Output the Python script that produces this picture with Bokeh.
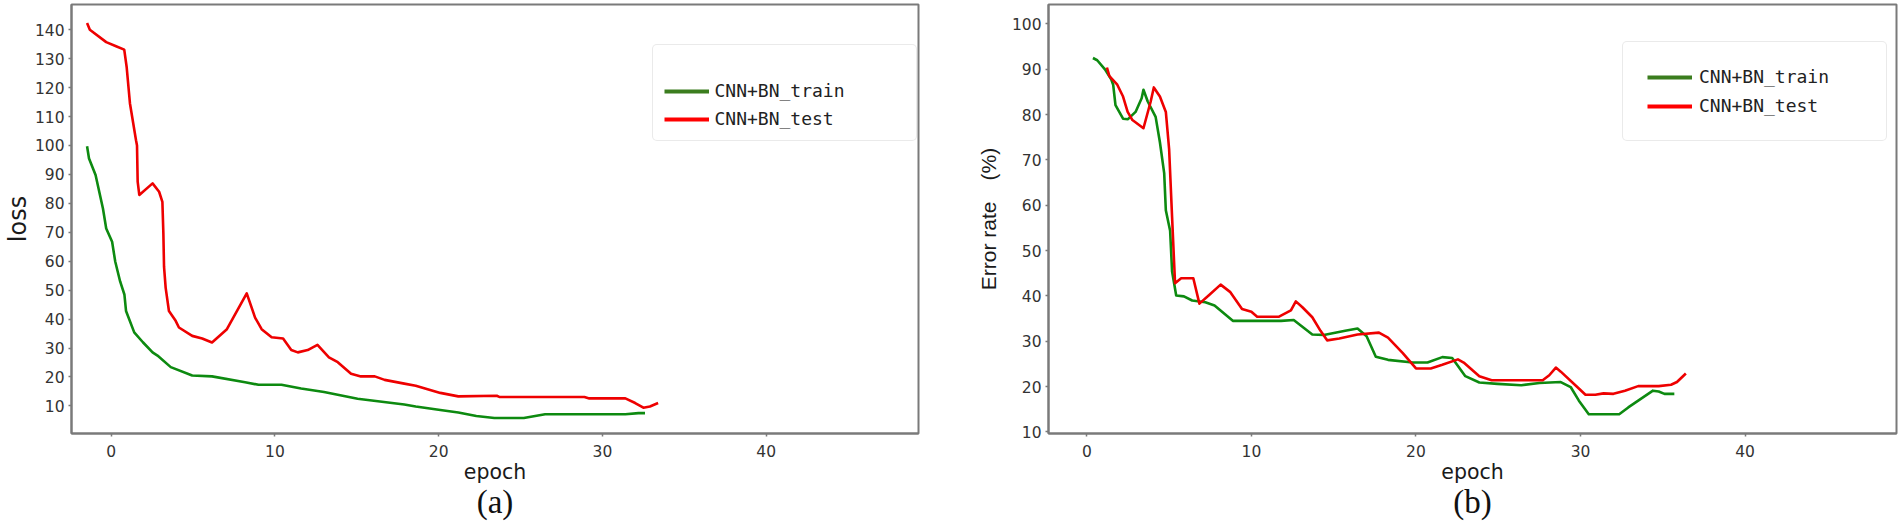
from bokeh.plotting import figure
from bokeh.layouts import row
from bokeh.models import Range1d, Legend, LegendItem, LinearAxis, FixedTicker
from bokeh.embed import file_html
from bokeh.resources import INLINE

# ---------------- data: (a) loss ----------------
loss_train_epoch = [-1.47, -1.35, -0.95, -0.5, -0.3, 0.06, 0.25, 0.55, 0.81, 0.91, 1.41, 1.94, 2.53, 2.83,
                    3.64, 4.95, 6.16, 8.18, 9.0, 10.4, 11.6, 13.0, 15.05, 17.9, 18.6, 20.1, 21.2, 22.3,
                    23.4, 25.2, 26.5, 31.4, 32.2, 32.6]
loss_train = [99.7, 95.5, 89.8, 78.2, 71.3, 66.7, 59.9, 53.0, 48.5, 42.8, 35.4, 32.0, 28.5, 27.4,
              23.4, 20.5, 20.2, 18.2, 17.3, 17.3, 16.0, 14.8, 12.5, 10.5, 9.8, 8.6, 7.7, 6.5,
              5.8, 5.8, 7.1, 7.1, 7.5, 7.5]

loss_test_epoch = [-1.47, -1.3, -0.3, 0.3, 0.8, 0.95, 1.15, 1.52, 1.58, 1.62, 1.72, 2.53, 2.93, 3.13,
                   3.19, 3.23, 3.33, 3.53, 3.94, 4.14, 4.95, 5.56, 6.16, 7.07, 8.28, 8.79, 9.19, 9.8,
                   10.5, 11.0, 11.4, 12.0, 12.6, 13.3, 13.84, 14.65, 15.25, 16.1, 16.7, 17.9, 18.6,
                   20.1, 21.2, 23.55, 23.7, 28.9, 29.2, 31.4, 32.0, 32.5, 32.9, 33.4]
loss_test = [142.3, 140.0, 135.7, 134.3, 133.1, 127.0, 114.5, 101.8, 100.0, 87.5, 82.9, 86.9, 84.0, 80.5,
             69.6, 58.1, 50.8, 42.8, 39.4, 37.1, 34.2, 33.3, 31.9, 36.5, 48.9, 40.5, 36.5, 33.7,
             33.3, 29.3, 28.5, 29.3, 31.1, 26.8, 25.1, 21.1, 20.2, 20.2, 19.0, 17.7, 17.0,
             14.5, 13.3, 13.5, 13.1, 13.1, 12.6, 12.6, 11.0, 9.4, 9.8, 11.0]

# ---------------- data: (b) error rate ----------------
err_train_epoch = [0.37, 0.63, 1.1, 1.48, 1.6, 1.74, 2.2, 2.5, 2.96, 3.33, 3.44, 3.7, 4.18, 4.44, 4.7,
                   4.8, 5.06, 5.18, 5.43, 5.9, 6.4, 7.2, 7.76, 8.87, 10.17, 11.8, 12.57, 13.7, 14.4,
                   15.7, 16.45, 17.0, 17.56, 18.3, 19.8, 20.7, 21.6, 22.2, 23.0, 23.85, 24.95, 26.4,
                   27.5, 28.8, 29.4, 29.9, 30.5, 32.35, 32.9, 34.4, 34.75, 35.1, 35.7]
err_train = [92.5, 92.0, 90.0, 87.8, 86.6, 82.1, 79.1, 79.0, 80.6, 83.6, 85.5, 82.9, 79.5, 73.9, 67.1,
             58.9, 54.4, 45.4, 40.1, 39.9, 39.0, 38.6, 37.9, 34.5, 34.5, 34.5, 34.7, 31.5, 31.4,
             32.3, 32.8, 31.1, 26.6, 25.9, 25.3, 25.3, 26.5, 26.3, 22.3, 20.9, 20.6, 20.3,
             20.8, 21.0, 19.9, 16.9, 13.9, 13.9, 15.4, 19.1, 18.9, 18.4, 18.4]

err_test_epoch = [1.22, 1.37, 1.85, 2.2, 2.48, 2.77, 3.44, 3.88, 4.07, 4.44, 4.8, 5.0, 5.18, 5.3, 5.36,
                  5.73, 6.47, 6.84, 7.4, 8.13, 8.7, 9.43, 10.0, 10.35, 11.65, 12.4, 12.7, 13.1, 13.7,
                  14.2, 14.6, 15.34, 16.45, 17.75, 18.3, 19.2, 20.0, 20.9, 21.6, 22.55, 22.9, 23.85,
                  24.6, 27.7, 28.1, 28.5, 28.8, 29.8, 30.3, 30.9, 31.4, 32.0, 32.7, 33.5, 34.75, 35.5,
                  35.86, 36.4]
err_test = [90.4, 88.5, 86.6, 84.0, 80.6, 78.8, 77.0, 82.9, 86.0, 84.0, 80.6, 72.4, 57.4, 47.6, 42.8,
            43.9, 43.9, 38.3, 40.1, 42.5, 40.9, 37.1, 36.5, 35.4, 35.4, 36.8, 38.8, 37.5, 35.3,
            32.3, 30.2, 30.6, 31.5, 31.9, 30.8, 27.4, 24.0, 24.0, 24.8, 26.0, 25.3, 22.3,
            21.4, 21.4, 22.5, 24.2, 23.3, 19.9, 18.2, 18.2, 18.5, 18.4, 19.1, 20.1, 20.1, 20.4,
            21.0, 22.9]

x_ticks = [0, 10, 20, 30, 40]
loss_ticks = list(range(10, 141, 10))
err_ticks = list(range(10, 101, 10))
series_labels = ["CNN+BN_train", "CNN+BN_test"]

GREEN = "#0d8a10"
RED = "#ee0000"
LEG_GREEN = "#3b7d1e"
LEG_RED = "#ff0000"
FRAME = "#7a7a7a"

W = 950
H = 531
B_TOP = 4
B_BOTTOM = 98
FRAME_H = H - B_TOP - B_BOTTOM


def make_panel(b_left, b_right, xr, yr, yticks, ylabel, ylabel_font, ylabel_size, ylabel_standoff,
               caption, train_x, train_y, test_x, test_y,
               leg_right_gap, leg_top_gap, leg_w, leg_h, leg_cfg):
    p = figure(width=W, height=H, output_backend="svg", toolbar_location=None,
               x_range=Range1d(*xr), y_range=Range1d(*yr),
               min_border_left=b_left, min_border_right=b_right,
               min_border_top=B_TOP, min_border_bottom=B_BOTTOM,
               background_fill_color="white", border_fill_color="white")
    p.grid.visible = False
    p.outline_line_color = FRAME
    p.outline_line_width = 2
    p.xaxis.ticker = FixedTicker(ticks=x_ticks)
    p.yaxis.ticker = FixedTicker(ticks=yticks)
    for ax in (p.xaxis[0], p.yaxis[0]):
        ax.axis_line_color = FRAME
        ax.axis_line_width = 2
        ax.major_tick_line_color = FRAME
        ax.major_tick_line_width = 1.5
        ax.major_tick_out = 3
        ax.major_tick_in = 0
        ax.minor_tick_line_color = None
        ax.major_label_text_font = "DejaVu Sans"
        ax.major_label_text_font_size = "15.5px"
        ax.major_label_text_color = "#333333"
        ax.axis_label_text_font_style = "normal"
        ax.axis_label_text_color = "#1a1a1a"
    p.yaxis.major_label_standoff = 4
    p.yaxis.axis_label = ylabel
    p.yaxis.axis_label_text_font = ylabel_font
    p.yaxis.axis_label_text_font_size = ylabel_size
    p.yaxis.axis_label_standoff = ylabel_standoff
    p.xaxis.axis_label = "epoch"
    p.xaxis.axis_label_text_font = "DejaVu Sans"
    p.xaxis.axis_label_text_font_size = "20.5px"
    p.xaxis.axis_label_standoff = 0
    p.xaxis.major_label_standoff = 8

    # panel caption, drawn as the title of an extra tick-less axis below "epoch"
    cap = LinearAxis(ticker=FixedTicker(ticks=[]), axis_label=caption,
                     axis_line_color=None, major_tick_line_color=None, minor_tick_line_color=None,
                     major_tick_out=0, major_tick_in=0, minor_tick_out=0, minor_tick_in=0,
                     major_label_text_font_size="0px",
                     axis_label_text_font="Liberation Serif", axis_label_text_font_size="33px",
                     axis_label_text_font_style="normal", axis_label_text_color="#111111",
                     axis_label_standoff=-3)
    p.add_layout(cap, "below")

    r_train = p.line(train_x, train_y, line_color=GREEN, line_width=2.6, line_join="round")
    r_test = p.line(test_x, test_y, line_color=RED, line_width=2.6, line_join="round")
    # hidden copies that only provide the thicker legend swatches
    k_train = p.line(train_x, train_y, line_color=LEG_GREEN, line_width=4, visible=False)
    k_test = p.line(test_x, test_y, line_color=LEG_RED, line_width=4, visible=False)

    frame_w = W - b_left - b_right
    loc = (frame_w - leg_right_gap - leg_w, FRAME_H - leg_top_gap - leg_h)
    legend = Legend(items=[LegendItem(label=series_labels[0], renderers=[k_train]),
                           LegendItem(label=series_labels[1], renderers=[k_test])],
                    location=loc,
                    label_text_font="DejaVu Sans Mono", label_text_font_size="18px",
                    label_text_color="#222222", glyph_width=45, glyph_height=20,
                    label_height=20, border_line_color="#d6d6d6", border_line_width=1.5,
                    background_fill_color="white", background_fill_alpha=1.0,
                    inactive_fill_alpha=0.0, **leg_cfg)
    if "border_radius" in Legend.properties():
        legend.border_radius = 5
    p.add_layout(legend)
    return p


p1 = make_panel(65, 32, (-2.42, 49.3), (0.47, 148.7), loss_ticks, "loss", "DejaVu Sans", "24px", 0,
                "(a)", loss_train_epoch, loss_train, loss_test_epoch, loss_test,
                8.5, 43, 264, 94,
                dict(label_width=190, label_standoff=6, spacing=7, padding=11,
                     title=" ", title_text_font_size="12px", title_standoff=10))
p2 = make_panel(98, 4, (-2.33, 49.2), (9.65, 104.3), err_ticks, "Error rate\u3000(%)",
                "Liberation Sans", "21px", 9,
                "(b)", err_train_epoch, err_train, err_test_epoch, err_test,
                11, 39, 263, 98,
                dict(label_width=163, label_standoff=7, spacing=8, padding=24))

layout = row(p1, p2)
open("out.html", "w").write(file_html(layout, INLINE, title="CNN+BN"))
